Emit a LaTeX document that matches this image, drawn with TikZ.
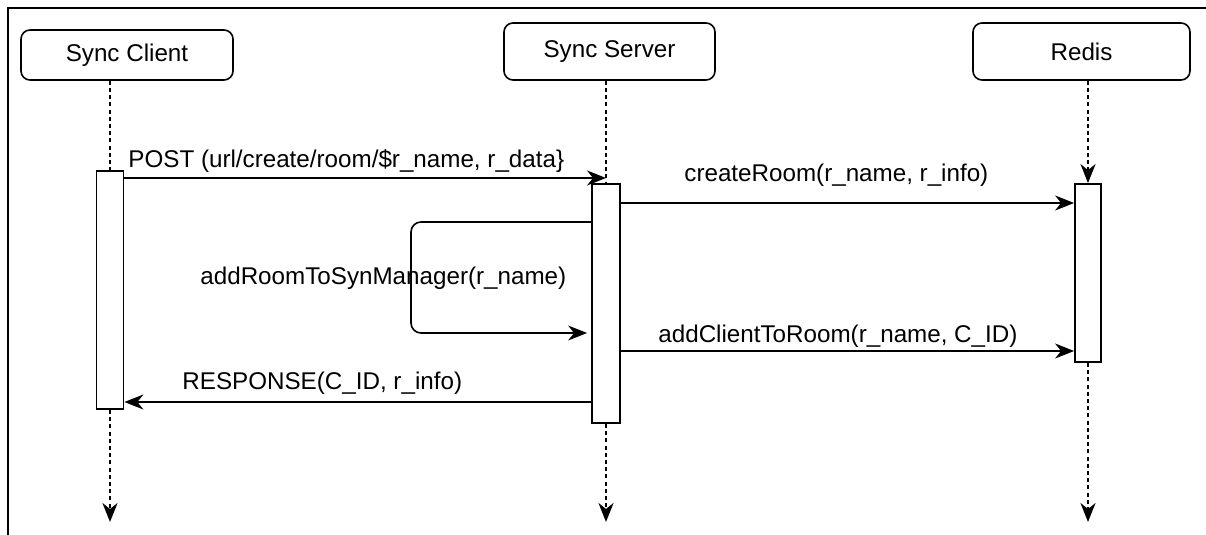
\documentclass[tikz,border=0pt]{standalone}
\usepackage{fontspec}
\setmainfont{Liberation Sans}
\usetikzlibrary{arrows.meta}
\tikzset{
	actor/.style      = {shape=rectangle, rounded corners=4.5pt,
		draw, line width=0.8pt, align=center, inner sep=0pt},
	activation/.style = {shape=rectangle, draw, line width=0.9pt,
		fill=white, minimum width=13.5pt, inner sep=0pt},
	lifeline/.style   = {draw, line width=1pt, dash pattern=on 2pt off 1.6pt},
	msg/.style        = {draw, line width=0.8pt, ->},
	msglabel/.style   = {anchor=base west, inner sep=0pt}
%	note/.style       = {rectangle,draw}
}

\begin{document}
\begin{tikzpicture}
		[
		x                 = 0.5pt,
		y                 = -0.5pt,
		every node/.style = {font=\fontsize{12.1}{14}\selectfont},
		>                 = {Stealth[length=9.5pt, width=7.5pt, inset=3pt]}
		]
	\useasboundingbox (0,0) rectangle (1206,535);
	% frame of the screenshot
	\draw [line width=1pt] (8,535) -- (8,8) -- (1206,8);

	% participants
	\node [actor, minimum width=106pt, minimum height=25pt] (client) at (127,55) {Sync Client};
	\node [actor, minimum width=105.5pt, minimum height=28.5pt] (server) at (609.5,51.5) {Sync Server};
	\node [actor, minimum width=108.5pt, minimum height=28.5pt] (redis) at (1081.5,51.5) {Redis};

	% message levels
	\coordinate (post)    at (0,178);
	\coordinate (create)  at (0,203);
	\coordinate (selftop) at (0,222);
	\coordinate (loop)    at (411,280);
	\coordinate (selfbot) at (0,333);
	\coordinate (addcl)   at (0,351);
	\coordinate (resp)    at (0,402);
	\coordinate (bottom)  at (0,522);

	% activation bars
	\node [activation, minimum height=119pt] (clientact) at (110,290) {};
	\node [activation, minimum width=14pt, minimum height=119.5pt] (serveract) at (606,303.5) {};
	\node [activation, minimum width=13pt, minimum height=89pt] (redisact) at (1088,273) {};

	% lifelines
	\draw [lifeline] (clientact.north |- client.south) -- (clientact.north);
	\draw [lifeline] (serveract.north |- server.south) -- (serveract.north);
	\draw [lifeline, ->] (redisact.north |- redis.south) -- (redisact.north);

	\draw [lifeline, ->] (clientact.south) -- (clientact.south |- bottom);
	\draw [lifeline, ->] (serveract.south) -- (serveract.south |- bottom);
	\draw [lifeline, ->] (redisact.south) -- (redisact.south |- bottom);

	% messages
	\draw [msg] (clientact.east |- post) -- (serveract.north |- post);
	\node [msglabel] (postlabel) at (128,168) {POST (url/create/room/\$r\_name, r\_data\}};

	\draw [msg] (serveract.east |- create) -- (redisact.west |- create);
	\node [msglabel] (createlabel) at (684,182) {createRoom(r\_name, r\_info)};

	\draw [msg, rounded corners=5pt, shorten >=2pt] (serveract.west |- selftop) -| (loop) |- (serveract.west |- selfbot);
	\node [msglabel] (selflabel) at (200,285) {addRoomToSynManager(r\_name)};

	\draw [msg] (serveract.east |- addcl) -- (redisact.west |- addcl);
	\node [msglabel] (addlabel) at (658,343) {addClientToRoom(r\_name, C\_ID)};

	\draw [msg] (serveract.west |- resp) -- (clientact.east |- resp);
	\node [msglabel] (resplabel) at (182,389) {RESPONSE(C\_ID, r\_info)};
\end{tikzpicture}
\end{document}
